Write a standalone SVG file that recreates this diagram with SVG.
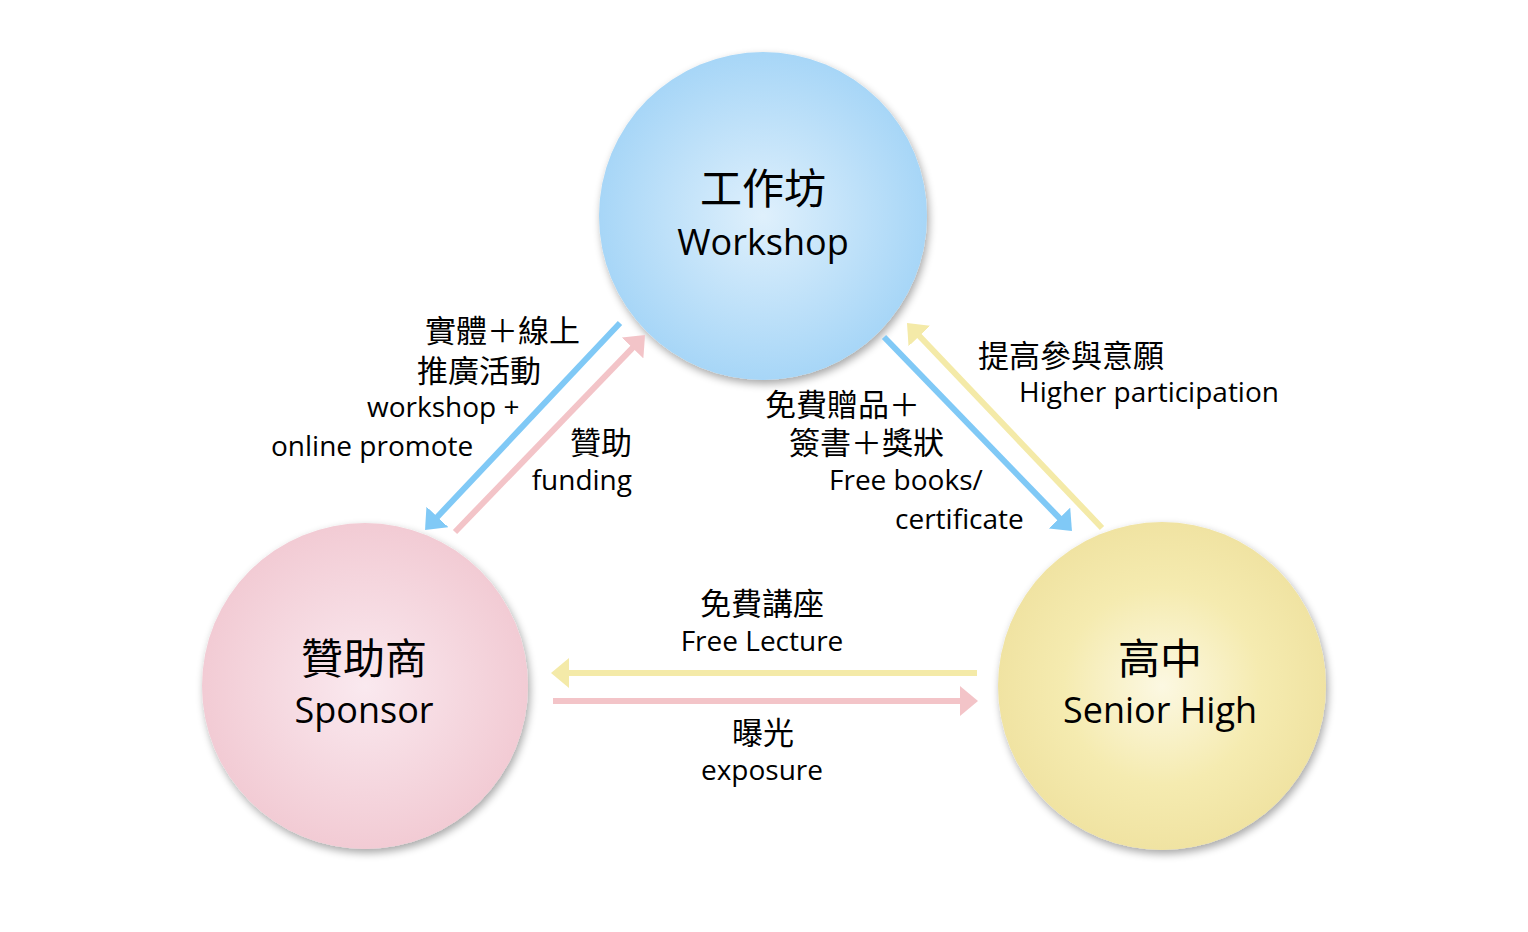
<svg xmlns="http://www.w3.org/2000/svg" width="1528" height="932" viewBox="0 0 1528 932">
  <style>
    text { font-family: "Open Sans", "Noto Sans CJK TC", sans-serif; fill: #000; }
    .title { font-size: 42px; text-anchor: middle; }
    .sub { font-size: 36px; text-anchor: middle; }
    .zh { font-size: 31px; }
    .en { font-size: 28px; }
    .mid { text-anchor: middle; }
    .end { text-anchor: end; }
    .conn { fill: none; stroke-width: 6; stroke-linecap: butt; }
  </style>
  <defs>
    <radialGradient id="gBlue" cx="50%" cy="50%" r="50%">
      <stop offset="0" stop-color="#DFF0FC"/>
      <stop offset="1" stop-color="#A7D6F7"/>
    </radialGradient>
    <radialGradient id="gPink" cx="50%" cy="50%" r="50%">
      <stop offset="0" stop-color="#FAE9EF"/>
      <stop offset="1" stop-color="#F2CBD4"/>
    </radialGradient>
    <radialGradient id="gYellow" cx="50%" cy="50%" r="50%">
      <stop offset="0" stop-color="#FCF8E2"/>
      <stop offset="0.6" stop-color="#F5EBB0"/>
      <stop offset="1" stop-color="#F0E3A2"/>
    </radialGradient>
    <filter id="shadow" x="-20%" y="-20%" width="140%" height="140%">
      <feGaussianBlur in="SourceAlpha" stdDeviation="4"/>
      <feOffset dx="2" dy="4" result="b"/>
      <feComponentTransfer><feFuncA type="linear" slope="0.35"/></feComponentTransfer>
      <feMerge><feMergeNode/><feMergeNode in="SourceGraphic"/></feMerge>
    </filter>
    <marker id="hBlue" markerUnits="userSpaceOnUse" markerWidth="20" markerHeight="30" refX="8" refY="15" orient="auto">
      <path d="M0,0 L18,15 L0,30 z" fill="#80C9F6"/>
    </marker>
    <marker id="hPink" markerUnits="userSpaceOnUse" markerWidth="20" markerHeight="30" refX="8" refY="15" orient="auto">
      <path d="M0,0 L18,15 L0,30 z" fill="#F3C4C8"/>
    </marker>
    <marker id="hYellow" markerUnits="userSpaceOnUse" markerWidth="20" markerHeight="30" refX="8" refY="15" orient="auto">
      <path d="M0,0 L18,15 L0,30 z" fill="#F4EAA8"/>
    </marker>
  </defs>
  <rect width="1528" height="932" fill="#FFFFFF"/>

  <g id="node-workshop">
    <circle cx="763" cy="216" r="164" fill="url(#gBlue)" filter="url(#shadow)"/>
    <text class="title" x="763" y="204">工作坊</text>
    <text class="sub" x="763" y="255">Workshop</text>
  </g>
  <g id="node-sponsor">
    <circle cx="365" cy="686" r="163" fill="url(#gPink)" filter="url(#shadow)"/>
    <text class="title" x="364" y="674">贊助商</text>
    <text class="sub" x="364" y="723">Sponsor</text>
  </g>
  <g id="node-seniorhigh">
    <circle cx="1162" cy="686" r="164" fill="url(#gYellow)" filter="url(#shadow)"/>
    <text class="title" x="1160" y="674">高中</text>
    <text class="sub" x="1160" y="723">Senior High</text>
  </g>

  <g id="connectors">
    <line class="conn" x1="620" y1="323" x2="431.9" y2="522.7" stroke="#80C9F6" marker-end="url(#hBlue)"/>
    <line class="conn" x1="455" y1="532" x2="638.1" y2="342.2" stroke="#F3C4C8" marker-end="url(#hPink)"/>
    <line class="conn" x1="884" y1="337" x2="1065" y2="523.8" stroke="#80C9F6" marker-end="url(#hBlue)"/>
    <line class="conn" x1="1102" y1="528" x2="913.9" y2="330.2" stroke="#F4EAA8" marker-end="url(#hYellow)"/>
    <line class="conn" x1="977" y1="673" x2="561" y2="673" stroke="#F4EAA8" marker-end="url(#hYellow)"/>
    <line class="conn" x1="553" y1="701" x2="968" y2="701" stroke="#F3C4C8" marker-end="url(#hPink)"/>
  </g>

  <g id="labels">
    <text class="zh" x="425" y="342">實體＋線上</text>
    <text class="zh" x="417" y="382">推廣活動</text>
    <text class="en" x="367" y="417">workshop +</text>
    <text class="en" x="271" y="456">online promote</text>
    <text class="zh end" x="632" y="454">贊助</text>
    <text class="en end" x="632" y="490">funding</text>

    <text class="zh" x="978" y="367">提高參與意願</text>
    <text class="en" x="1019" y="402">Higher participation</text>
    <text class="zh" x="765" y="416">免費贈品＋</text>
    <text class="zh" x="789" y="454">簽書＋獎狀</text>
    <text class="en" x="829" y="490">Free books/</text>
    <text class="en" x="895" y="529">certificate</text>

    <text class="zh mid" x="762" y="615">免費講座</text>
    <text class="en mid" x="762" y="651">Free Lecture</text>
    <text class="zh mid" x="763" y="744">曝光</text>
    <text class="en mid" x="762" y="780">exposure</text>
  </g>
</svg>
